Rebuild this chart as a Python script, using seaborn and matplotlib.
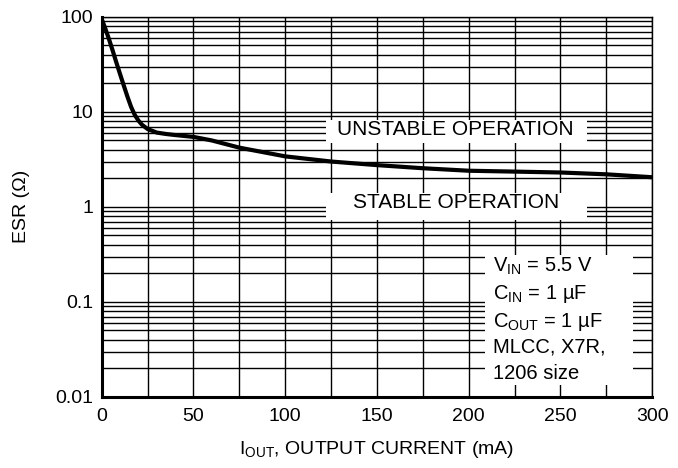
import seaborn as sns
import matplotlib.pyplot as plt
import matplotlib.ticker as mticker
from matplotlib.patches import Rectangle
import pandas as pd

# values
current_ma = [0, 2, 4, 6, 8, 10, 12, 14, 16, 18, 20, 22, 25, 30, 35, 40, 50, 60,
              75, 100, 125, 150, 175, 200, 225, 250, 275, 300]
esr_ohm = [95, 75, 58, 44, 33, 25, 19, 14.5, 11.3, 9.3, 8.1, 7.3, 6.6, 6.05, 5.85, 5.7,
           5.45, 5.0, 4.2, 3.4, 3.0, 2.75, 2.55, 2.4, 2.35, 2.3, 2.2, 2.05]

x_ticks = [0, 50, 100, 150, 200, 250, 300]
y_ticks = [0.01, 0.1, 1, 10, 100]
y_tick_labels = ["0.01", "0.1", "1", "10", "100"]

conditions = [
    r"V$_\mathregular{IN}$ = 5.5 V",
    r"C$_\mathregular{IN}$ = 1 µF",
    r"C$_\mathregular{OUT}$ = 1 µF",
    "MLCC, X7R,",
    "1206 size",
]

sns.set_theme(style="white")
plt.rcParams["font.family"] = ["Liberation Sans", "DejaVu Sans"]
plt.rcParams["mathtext.fontset"] = "custom"
plt.rcParams["mathtext.rm"] = "Liberation Sans"
plt.rcParams["text.color"] = "black"

df = pd.DataFrame({"I": current_ma, "ESR": esr_ohm})

fig = plt.figure(figsize=(6.78, 4.68), dpi=100)
ax = fig.add_axes([0.150, 0.152, 0.812, 0.812])

sns.lineplot(data=df, x="I", y="ESR", ax=ax, color="black", linewidth=3, zorder=4)

ax.set_yscale("log")
ax.set_xlim(0, 300)
ax.set_ylim(0.01, 100)

ax.set_xticks(x_ticks)
ax.xaxis.set_minor_locator(mticker.MultipleLocator(25))
ax.set_yticks(y_ticks)
ax.set_yticklabels(y_tick_labels)
ax.yaxis.set_minor_locator(mticker.LogLocator(base=10, subs=range(2, 10)))
ax.yaxis.set_minor_formatter(mticker.NullFormatter())

ax.grid(True, which="both", color="black", linewidth=1)
ax.tick_params(which="both", length=0, labelsize=14, colors="black")
ax.tick_params(axis="x", pad=8)
ax.tick_params(axis="y", pad=6)

for side in ["left", "bottom"]:
    ax.spines[side].set_linewidth(2.2)
for side in ["top", "right"]:
    ax.spines[side].set_linewidth(1)
for sp in ax.spines.values():
    sp.set_color("black")

ax.set_xlabel(r"I$_\mathregular{OUT}$, OUTPUT CURRENT (mA)", fontsize=14, color="black", labelpad=10)
ax.set_ylabel("ESR (Ω)", fontsize=14, color="black", labelpad=18)

# white label panels that blank out the grid
for x0, y0, w, h in [(0.407, 0.668, 0.475, 0.061),
                     (0.407, 0.466, 0.475, 0.071),
                     (0.696, 0.032, 0.269, 0.342)]:
    ax.add_patch(Rectangle((x0, y0), w, h, transform=ax.transAxes,
                           facecolor="white", edgecolor="none", zorder=3))

ax.text(0.643, 0.703, "UNSTABLE OPERATION", transform=ax.transAxes, fontsize=15,
        ha="center", va="center", color="black", zorder=5)
ax.text(0.643, 0.511, "STABLE OPERATION", transform=ax.transAxes, fontsize=15,
        ha="center", va="center", color="black", zorder=5)

for line, yb in zip(conditions, [0.329, 0.258, 0.185, 0.116, 0.047]):
    ax.text(0.711, yb, line, transform=ax.transAxes, fontsize=14.5,
            ha="left", va="baseline", color="black", zorder=5)

fig.savefig("out.png", dpi=100)
